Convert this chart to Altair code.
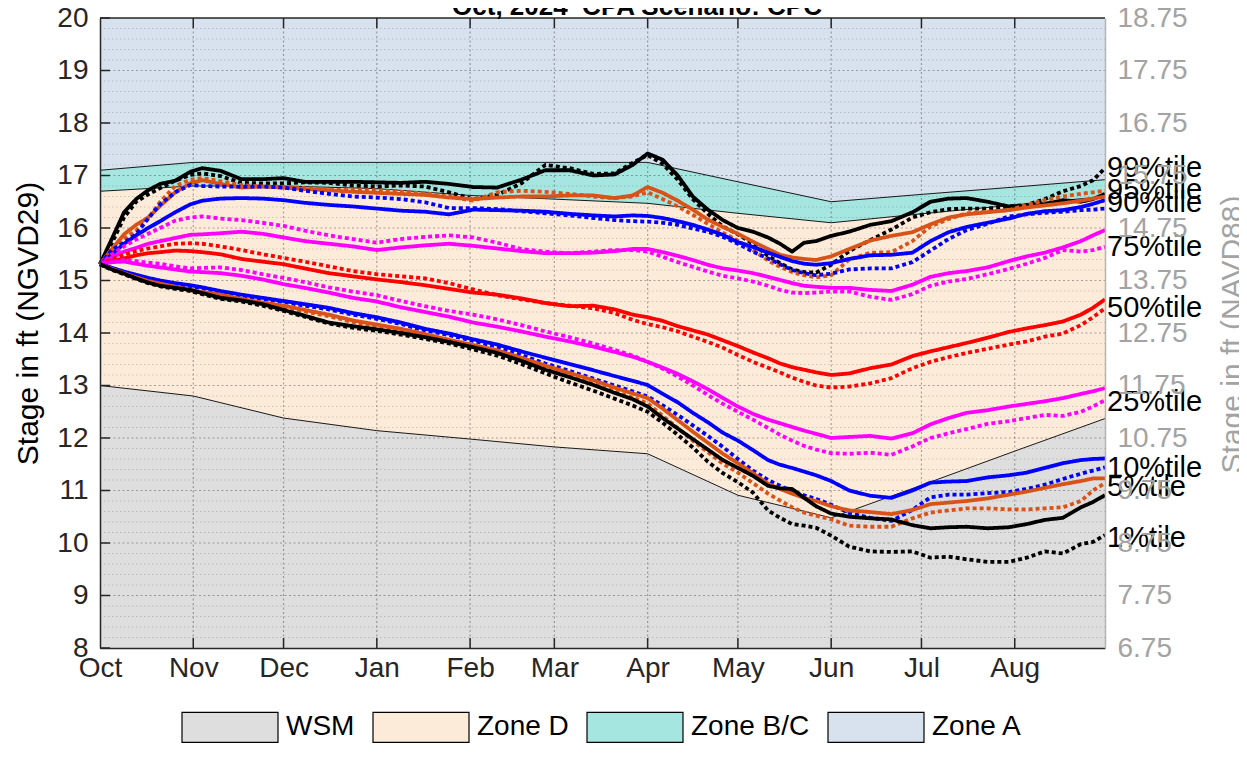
import altair as alt
import pandas as pd

# ---------------- text ----------------
TITLE = "Oct, 2024\u00a0 CPA Scenario: CPC"
LEFT_TITLE = "Stage in ft (NGVD29)"
RIGHT_TITLE = "Stage in ft (NAVD88)"

# ---------------- axes ----------------
MONTH_DAYS = [0, 31, 61, 92, 123, 151, 182, 212, 243, 273, 304]
MONTH_LABELS = ["Oct", "Nov", "Dec", "Jan", "Feb", "Mar", "Apr", "May", "Jun", "Jul", "Aug"]
X_END = 334
Y_TICKS = list(range(8, 21))
RIGHT_OFFSET = 1.25

# ---------------- zones ----------------
ZONE_NAMES = ["WSM", "Zone D", "Zone B/C", "Zone A"]
ZONE_COLORS = ["#dedede", "#fdebd9", "#a6e6e1", "#d8e1ee"]
ZONE_DAYS = [0, 31, 61, 92, 123, 151, 182, 212, 243, 273, 304, 334]
WSM_LINE = [13.0, 12.8, 12.38, 12.14, 11.98, 11.83, 11.70, 10.91, 10.48, 11.1, 11.75, 12.37]
ZONE_D_TOP = [16.7, 16.8, 16.8, 16.75, 16.62, 16.55, 16.47, 16.28, 16.1, 16.27, 16.44, 16.6]
ZONE_BC_TOP = [17.1, 17.25, 17.25, 17.25, 17.25, 17.25, 17.25, 16.88, 16.5, 16.64, 16.78, 16.92]

# ---------------- percentile traces ----------------
DAYS = [0, 4, 8, 12, 16, 20, 25, 30, 34, 40,
        47, 54, 61, 68, 76, 84, 92, 100, 108, 116,
        124, 132, 140, 148, 156, 164, 171, 177, 182, 187,
        192, 197, 202, 207, 212, 217, 222, 226, 230, 234,
        238, 243, 249, 256, 263, 270, 276, 282, 288, 295,
        302, 308, 314, 320, 326, 330, 334]

P99_SOLID = [15.31, 15.8, 16.3, 16.55, 16.72, 16.84, 16.9, 17.07, 17.14, 17.09,
             16.93, 16.93, 16.95, 16.88, 16.88, 16.88, 16.87, 16.86, 16.88, 16.84,
             16.78, 16.77, 16.92, 17.1, 17.1, 17.0, 17.02, 17.2, 17.42, 17.3,
             17.0, 16.6, 16.35, 16.15, 16.0, 15.93, 15.82, 15.7, 15.55, 15.72,
             15.75, 15.85, 15.93, 16.06, 16.13, 16.3, 16.5, 16.56, 16.57, 16.5,
             16.41, 16.42, 16.45, 16.53, 16.5, 16.55, 16.65]
P99_DOT = [15.31, 15.72, 16.2, 16.5, 16.64, 16.76, 16.9, 17.01, 17.04, 16.99,
           16.86, 16.85, 16.85, 16.87, 16.86, 16.81, 16.79, 16.81, 16.79, 16.68,
           16.55, 16.63, 16.85, 17.2, 17.14, 17.03, 17.04, 17.24, 17.39, 17.22,
           16.92, 16.55, 16.27, 16.03, 15.88, 15.7, 15.47, 15.33, 15.21, 15.16,
           15.15, 15.3, 15.56, 15.77, 15.97, 16.2, 16.3, 16.36, 16.37, 16.37,
           16.41, 16.44, 16.55, 16.7, 16.8, 16.91, 17.14]
P95_SOLID = [15.31, 15.6, 15.88, 16.06, 16.2, 16.42, 16.68, 16.85, 16.91, 16.84,
             16.77, 16.79, 16.77, 16.74, 16.72, 16.69, 16.67, 16.65, 16.63, 16.58,
             16.55, 16.58, 16.6, 16.6, 16.62, 16.62, 16.57, 16.62, 16.78, 16.67,
             16.52, 16.35, 16.16, 16.02, 15.89, 15.74, 15.6, 15.49, 15.44, 15.41,
             15.39, 15.46, 15.6, 15.76, 15.85, 15.92, 16.07, 16.2, 16.26, 16.3,
             16.34, 16.39, 16.43, 16.47, 16.52, 16.56, 16.6]
P95_DOT = [15.31, 15.6, 15.8, 15.95, 16.18, 16.5, 16.8, 16.92, 16.95, 16.89,
           16.82, 16.79, 16.79, 16.76, 16.73, 16.72, 16.72, 16.69, 16.66, 16.6,
           16.52, 16.68, 16.71, 16.69, 16.65, 16.6, 16.57, 16.6, 16.68, 16.55,
           16.41, 16.25, 16.08, 15.91, 15.76, 15.58, 15.38, 15.26, 15.16, 15.1,
           15.06, 15.1, 15.4, 15.53, 15.54, 15.75, 16.03, 16.17, 16.28, 16.31,
           16.34, 16.44, 16.53, 16.6, 16.65, 16.68, 16.71]
P90_SOLID = [15.31, 15.5, 15.7, 15.86, 16.0, 16.13, 16.3, 16.45, 16.52, 16.56,
             16.57, 16.56, 16.53, 16.48, 16.44, 16.41, 16.37, 16.33, 16.31, 16.26,
             16.35, 16.34, 16.33, 16.31, 16.27, 16.24, 16.22, 16.24, 16.23, 16.19,
             16.13, 16.06, 15.97, 15.87, 15.73, 15.64, 15.53, 15.45, 15.37, 15.32,
             15.3, 15.33, 15.41, 15.48, 15.49, 15.53, 15.75, 15.92, 16.02, 16.1,
             16.18, 16.27, 16.32, 16.34, 16.4, 16.46, 16.53]
P90_DOT = [15.31, 15.58, 15.72, 15.88, 16.18, 16.45, 16.68, 16.82, 16.8, 16.79,
           16.79, 16.79, 16.77, 16.71, 16.65, 16.6, 16.58, 16.55, 16.49, 16.38,
           16.38, 16.36, 16.32, 16.28, 16.24, 16.19, 16.15, 16.13, 16.12, 16.1,
           16.06, 15.99, 15.93, 15.83, 15.7, 15.55, 15.42, 15.31, 15.2, 15.14,
           15.1, 15.13, 15.21, 15.23, 15.23, 15.35, 15.57, 15.79, 15.96, 16.08,
           16.22, 16.26, 16.29, 16.31, 16.34, 16.35, 16.37]
P75_SOLID = [15.31, 15.44, 15.55, 15.62, 15.7, 15.75, 15.81, 15.87, 15.88, 15.9,
             15.93, 15.89, 15.82, 15.75, 15.7, 15.65, 15.58, 15.63, 15.67, 15.7,
             15.66, 15.61, 15.56, 15.52, 15.52, 15.53, 15.56, 15.6, 15.6, 15.54,
             15.47, 15.39, 15.3, 15.23, 15.19, 15.14, 15.07, 15.01, 14.95, 14.9,
             14.88, 14.86, 14.86, 14.82, 14.8, 14.92, 15.07, 15.14, 15.18, 15.25,
             15.37, 15.46, 15.53, 15.63, 15.75, 15.86, 15.96]
P75_DOT = [15.31, 15.5, 15.65, 15.78, 15.89, 16.0, 16.14, 16.2, 16.22, 16.18,
           16.15, 16.1, 16.04, 15.95, 15.86, 15.79, 15.72, 15.79, 15.83, 15.86,
           15.82, 15.72, 15.6, 15.55, 15.52, 15.55, 15.58, 15.58, 15.55, 15.45,
           15.35, 15.26, 15.17, 15.09, 15.04, 14.98, 14.9, 14.82, 14.77, 14.76,
           14.77, 14.79, 14.79, 14.69, 14.63, 14.74, 14.9, 14.98, 15.03, 15.12,
           15.22, 15.32, 15.43, 15.58, 15.55, 15.58, 15.64]
P50_SOLID = [15.31, 15.37, 15.42, 15.48, 15.52, 15.54, 15.57, 15.56, 15.54, 15.5,
             15.41, 15.36, 15.31, 15.23, 15.14, 15.08, 15.02, 14.97, 14.91, 14.84,
             14.77, 14.73, 14.66, 14.57, 14.51, 14.52, 14.45, 14.35, 14.3, 14.23,
             14.13, 14.05, 13.97, 13.86, 13.75, 13.63, 13.52, 13.42, 13.35, 13.3,
             13.25, 13.2, 13.23, 13.33, 13.4, 13.56, 13.65, 13.73, 13.81, 13.91,
             14.02, 14.09, 14.15, 14.22, 14.35, 14.48, 14.64]
P50_DOT = [15.31, 15.41, 15.49, 15.56, 15.61, 15.65, 15.7, 15.71, 15.7, 15.65,
           15.58, 15.5, 15.43, 15.36, 15.27, 15.18, 15.12, 15.08, 15.04, 14.95,
           14.83, 14.72, 14.64, 14.57, 14.52, 14.47, 14.38, 14.25, 14.17, 14.11,
           14.03, 13.93, 13.83, 13.72, 13.58, 13.45, 13.34, 13.25, 13.15, 13.07,
           13.0, 12.96, 12.98, 13.04, 13.14, 13.33, 13.45, 13.54, 13.62, 13.7,
           13.78, 13.84, 13.93, 13.99, 14.15, 14.3, 14.47]
P25_SOLID = [15.31, 15.35, 15.36, 15.32, 15.28, 15.25, 15.21, 15.17, 15.16, 15.14,
             15.09, 15.02, 14.93, 14.86, 14.77, 14.67, 14.6, 14.49, 14.4, 14.31,
             14.2, 14.12, 14.03, 13.93, 13.84, 13.74, 13.64, 13.55, 13.45, 13.34,
             13.22, 13.08, 12.93, 12.76, 12.6, 12.46, 12.35, 12.28, 12.21, 12.14,
             12.08, 12.0, 12.02, 12.04, 11.99, 12.09, 12.26, 12.38, 12.48, 12.53,
             12.6, 12.65, 12.7, 12.76, 12.84, 12.89, 12.95]
P25_DOT = [15.31, 15.36, 15.39, 15.37, 15.34, 15.32, 15.27, 15.23, 15.24, 15.25,
           15.2, 15.12, 15.05, 14.97, 14.87, 14.79, 14.72, 14.61, 14.51, 14.42,
           14.35, 14.26, 14.15, 14.03, 13.92, 13.8, 13.68, 13.57, 13.45, 13.32,
           13.17, 13.0, 12.82, 12.65, 12.5, 12.35, 12.19, 12.06, 11.95, 11.85,
           11.78, 11.71, 11.7, 11.72, 11.68, 11.84, 12.0, 12.09, 12.17, 12.27,
           12.32, 12.38, 12.44, 12.42, 12.5, 12.6, 12.72]
P10_SOLID = [15.31, 15.24, 15.17, 15.11, 15.05, 15.0, 14.95, 14.91, 14.87, 14.8,
             14.73, 14.67, 14.61, 14.55, 14.48, 14.38, 14.3, 14.2, 14.08, 13.99,
             13.88, 13.78, 13.65, 13.53, 13.41, 13.29, 13.18, 13.09, 13.01, 12.84,
             12.68, 12.48, 12.3, 12.1, 11.95, 11.77, 11.58, 11.49, 11.43, 11.36,
             11.29, 11.18, 11.0, 10.9, 10.86, 11.0, 11.15, 11.17, 11.18, 11.25,
             11.29, 11.34, 11.43, 11.52, 11.58, 11.6, 11.61]
P10_DOT = [15.31, 15.23, 15.15, 15.09, 15.03, 14.98, 14.93, 14.89, 14.85, 14.78,
           14.71, 14.65, 14.59, 14.52, 14.45, 14.35, 14.27, 14.17, 14.05, 13.96,
           13.85, 13.74, 13.58, 13.42, 13.28, 13.13, 13.0, 12.89, 12.79, 12.62,
           12.44, 12.24, 12.04, 11.83, 11.6, 11.38, 11.2, 11.09, 10.99, 10.91,
           10.84, 10.73, 10.57, 10.48, 10.42, 10.63, 10.87, 10.92, 10.92, 10.95,
           10.97, 11.03, 11.11, 11.22, 11.32, 11.38, 11.44]
P5_SOLID = [15.31, 15.22, 15.14, 15.06, 14.99, 14.94, 14.88, 14.82, 14.78, 14.73,
            14.65, 14.58, 14.52, 14.44, 14.35, 14.24, 14.16, 14.08, 13.98, 13.87,
            13.77, 13.67, 13.53, 13.38, 13.24, 13.1, 12.96, 12.85, 12.76, 12.56,
            12.34, 12.12, 11.91, 11.7, 11.52, 11.33, 11.13, 11.03, 10.94, 10.86,
            10.8, 10.7, 10.62, 10.59, 10.55, 10.63, 10.74, 10.77, 10.8, 10.85,
            10.92, 10.98, 11.05, 11.12, 11.18, 11.23, 11.23]
P5_DOT = [15.31, 15.21, 15.13, 15.05, 14.98, 14.93, 14.87, 14.81, 14.77, 14.71,
          14.63, 14.56, 14.49, 14.41, 14.32, 14.21, 14.13, 14.05, 13.95, 13.84,
          13.73, 13.63, 13.49, 13.33, 13.18, 13.03, 12.89, 12.77, 12.66, 12.42,
          12.19, 11.95, 11.73, 11.51, 11.34, 11.14, 10.94, 10.81, 10.68, 10.58,
          10.52, 10.45, 10.33, 10.31, 10.31, 10.47, 10.58, 10.62, 10.66, 10.66,
          10.64, 10.64, 10.66, 10.68, 10.8, 11.0, 11.14]
P1_SOLID = [15.31, 15.21, 15.13, 15.04, 14.96, 14.9, 14.86, 14.82, 14.76, 14.67,
            14.62, 14.55, 14.44, 14.33, 14.2, 14.13, 14.07, 14.0, 13.92, 13.83,
            13.73, 13.62, 13.47, 13.3, 13.16, 13.01, 12.86, 12.74, 12.6, 12.38,
            12.18, 11.98, 11.78, 11.58, 11.43, 11.28, 11.09, 11.04, 11.03, 10.86,
            10.7, 10.56, 10.5, 10.47, 10.45, 10.34, 10.28, 10.3, 10.31, 10.28,
            10.3, 10.36, 10.44, 10.48, 10.68, 10.78, 10.91]
P1_DOT = [15.31, 15.2, 15.12, 15.03, 14.95, 14.89, 14.84, 14.8, 14.74, 14.65,
          14.6, 14.52, 14.42, 14.31, 14.18, 14.1, 14.04, 13.97, 13.89, 13.8,
          13.69, 13.57, 13.41, 13.23, 13.06, 12.9, 12.75, 12.62, 12.5, 12.29,
          12.06, 11.82, 11.55, 11.33, 11.16, 10.96, 10.62, 10.48, 10.36, 10.33,
          10.29, 10.14, 9.93, 9.84, 9.83, 9.84, 9.72, 9.74, 9.69, 9.64,
          9.64, 9.72, 9.84, 9.8, 9.98, 10.02, 10.15]

PCT_NAMES = ["99", "95", "90", "75", "50", "25", "10", "5", "1"]
PCT_COLORS = ["#000000", "#D95319", "#0000FF", "#FF00FF", "#FF0000",
              "#FF00FF", "#0000FF", "#D95319", "#000000"]
SERIES = [
    ("99", "solid", P99_SOLID), ("99", "dotted", P99_DOT),
    ("95", "solid", P95_SOLID), ("95", "dotted", P95_DOT),
    ("90", "solid", P90_SOLID), ("90", "dotted", P90_DOT),
    ("75", "solid", P75_SOLID), ("75", "dotted", P75_DOT),
    ("50", "solid", P50_SOLID), ("50", "dotted", P50_DOT),
    ("25", "solid", P25_SOLID), ("25", "dotted", P25_DOT),
    ("10", "solid", P10_SOLID), ("10", "dotted", P10_DOT),
    ("5", "solid", P5_SOLID), ("5", "dotted", P5_DOT),
    ("1", "solid", P1_SOLID), ("1", "dotted", P1_DOT),
]

LABEL_TEXT = ["99%tile", "95%tile", "90%tile", "75%tile", "50%tile",
              "25%tile", "10%tile", "5%tile", "1%tile"]
LABEL_Y = [17.14, 16.72, 16.47, 15.64, 14.48, 12.69, 11.43, 11.07, 10.10]

# ---------------- build tables ----------------
W, H = 1005, 630
FONT = "Liberation Sans"
AX = "#262626"

zone_bounds = [[8.0] * len(ZONE_DAYS), WSM_LINE, ZONE_D_TOP, ZONE_BC_TOP, [20.0] * len(ZONE_DAYS)]
zone_rows = []
for i, z in enumerate(ZONE_NAMES):
    for j, d in enumerate(ZONE_DAYS):
        zone_rows.append({"zone": z, "order": i, "day": d, "lo": zone_bounds[i][j], "hi": zone_bounds[i + 1][j]})
zones_df = pd.DataFrame(zone_rows)

bound_rows = []
for name, vals in [("wsm", WSM_LINE), ("d", ZONE_D_TOP), ("bc", ZONE_BC_TOP)]:
    for d, v in zip(ZONE_DAYS, vals):
        bound_rows.append({"b": name, "day": d, "v": v})
bounds_df = pd.DataFrame(bound_rows)

line_rows = []
for k, (p, style, vals) in enumerate(SERIES):
    assert len(vals) == len(DAYS), (p, style, len(vals))
    for d, v in zip(DAYS, vals):
        line_rows.append({"series": f"P{p}-{style}", "k": k, "pct": p, "style": style, "day": d, "v": v})
lines_df = pd.DataFrame(line_rows)

labels_df = pd.DataFrame({"t": LABEL_TEXT, "v": LABEL_Y, "day": [X_END] * len(LABEL_TEXT)})

major_df = pd.DataFrame({"v": Y_TICKS[1:-1]})
minor_vals = [round(8 + 0.2 * i, 2) for i in range(1, 60) if i % 5 != 0]
minor_df = pd.DataFrame({"v": minor_vals})
vgrid_df = pd.DataFrame({"day": MONTH_DAYS[1:]})
yt_df = pd.DataFrame({"v": Y_TICKS})

XS = alt.Scale(domain=[0, X_END], nice=False, zero=False)
YS = alt.Scale(domain=[8, 20], nice=False, zero=False)

month_expr = " : ".join(
    "datum.value == {} ? '{}'".format(d, m) for d, m in zip(MONTH_DAYS, MONTH_LABELS)
) + " : ''"

x_axis = alt.Axis(values=MONTH_DAYS, labelExpr=month_expr, tickSize=0, labelPadding=6,
                  labelFontSize=28, labelColor=AX, domainColor=AX, domainWidth=1.5,
                  grid=False, title=None, labelFlush=False, labelOverlap=False, zindex=1)
left_axis = alt.Axis(orient="left", values=Y_TICKS, tickSize=0, labelPadding=12,
                     labelFontSize=28, labelColor=AX, domainColor=AX, domainWidth=1.5,
                     grid=False, title=LEFT_TITLE, titleFontSize=30, titleFontWeight="normal",
                     titleColor="#000000", titleX=-72, titleY=305, titleAngle=-90,
                     titleAlign="center", titleBaseline="middle",
                     labelFlush=False, labelOverlap=False, zindex=1)
right_axis = alt.Axis(orient="right", values=Y_TICKS,
                      labelExpr="format(datum.value - {}, '.2f')".format(RIGHT_OFFSET),
                      tickSize=0, labelPadding=12, labelFontSize=28, labelColor="#a3a3a3",
                      domainColor="#b5b5b5", domainWidth=1.5, grid=False,
                      title=RIGHT_TITLE, titleFontSize=30, titleFontWeight="normal",
                      titleColor="#a3a3a3", titleX=127, titleY=316, titleAngle=-90,
                      titleAlign="center", titleBaseline="middle",
                      labelFlush=False, labelOverlap=False, zindex=1)

legend = alt.Legend(orient="none", legendX=82, legendY=693, direction="horizontal",
                    title=None, symbolType="M-3.2,-1H3.2V1H-3.2Z", symbolSize=900,
                    symbolStrokeColor="black", symbolStrokeWidth=1.2, symbolOffset=32,
                    labelOffset=40, labelFontSize=28, labelColor="#000000", labelFont=FONT,
                    columnPadding=15, padding=0, symbolOpacity=1, values=ZONE_NAMES)

X = alt.X("day:Q", scale=XS)

zones = alt.Chart(zones_df).mark_area(interpolate="linear", opacity=1).encode(
    x=alt.X("day:Q", scale=XS, axis=x_axis),
    y=alt.Y("hi:Q", scale=YS, axis=left_axis),
    y2="lo:Q",
    fill=alt.Fill("zone:N", scale=alt.Scale(domain=ZONE_NAMES, range=ZONE_COLORS), legend=legend),
    order="order:Q",
)

bounds = alt.Chart(bounds_df).mark_line(color="#000000", strokeWidth=0.9).encode(
    x=X,
    y=alt.Y("v:Q", scale=YS, axis=None),
    detail="b:N",
)

minor = alt.Chart(minor_df).mark_rule(color=AX, opacity=0.2, strokeDash=[1.5, 2.5], strokeWidth=1).encode(
    y=alt.Y("v:Q", scale=YS, axis=None), x=alt.value(0), x2=alt.value(W))
major = alt.Chart(major_df).mark_rule(color=AX, opacity=0.38, strokeDash=[2, 2.5], strokeWidth=1.2).encode(
    y=alt.Y("v:Q", scale=YS, axis=None), x=alt.value(0), x2=alt.value(W))
vgrid = alt.Chart(vgrid_df).mark_rule(color=AX, opacity=0.38, strokeDash=[2, 2.5], strokeWidth=1.2).encode(
    x=X, y=alt.value(0), y2=alt.value(H))

lines = alt.Chart(lines_df).mark_line(strokeWidth=3.8, strokeCap="butt", strokeJoin="round").encode(
    x=X,
    y=alt.Y("v:Q", scale=YS, axis=None),
    color=alt.Color("pct:N", scale=alt.Scale(domain=PCT_NAMES, range=PCT_COLORS), legend=None),
    strokeDash=alt.StrokeDash("style:N", scale=alt.Scale(domain=["solid", "dotted"], range=[[1, 0], [4, 3]]), legend=None),
    detail="series:N",
    order="k:Q",
)

labels = alt.Chart(labels_df).mark_text(align="left", baseline="middle", fontSize=29, color="#000000", dx=2).encode(
    x=X,
    y=alt.Y("v:Q", scale=YS, axis=None),
    text="t:N",
)

left_ticks = alt.Chart(yt_df).mark_rule(color=AX, strokeWidth=1.5).encode(
    y=alt.Y("v:Q", scale=YS, axis=None), x=alt.value(0), x2=alt.value(10))
bottom_ticks = alt.Chart(vgrid_df).mark_rule(color=AX, strokeWidth=1.5).encode(
    x=X, y=alt.value(H), y2=alt.value(H - 10))
top_ticks = alt.Chart(vgrid_df).mark_rule(color=AX, strokeWidth=1.5).encode(
    x=X, y=alt.value(0), y2=alt.value(10))
top_border = alt.Chart(pd.DataFrame({"a": [0]})).mark_rule(color=AX, strokeWidth=1.5).encode(
    x=alt.value(0), x2=alt.value(W), y=alt.value(0))

right = alt.Chart(yt_df).mark_rule(opacity=0).encode(
    y=alt.Y("v:Q", scale=YS, axis=right_axis), x=alt.value(W), x2=alt.value(W - 1))

title = alt.Chart(pd.DataFrame({"t": [TITLE]})).mark_text(
    fontSize=26, fontWeight="bold", align="center", baseline="alphabetic", color="#000000").encode(
    text="t:N", x=alt.value(537), y=alt.value(-3))

chart = alt.layer(
    zones, bounds, minor, major, vgrid, lines, labels,
    left_ticks, bottom_ticks, top_ticks, top_border, right, title,
).resolve_axis(y="independent").properties(
    width=W, height=H,
    autosize=alt.AutoSizeParams(type="none"),
    padding={"left": 92, "top": 10, "right": 134, "bottom": 100},
).configure(font=FONT).configure_view(stroke=None)

chart.save("out.html", embed_options={"renderer": "svg", "actions": False})
